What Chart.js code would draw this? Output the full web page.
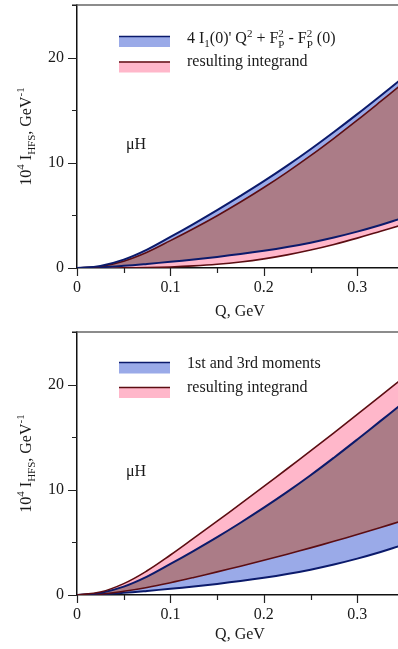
<!DOCTYPE html>
<html lang="en">
<head>
<meta charset="UTF-8">
<title>I_HFS integrand, muH</title>
<style>
    body { margin: 0; background: #fff; }
    .panel { position: relative; width: 398px; }
    #topPanel { height: 320px; }
    #bottomPanel { height: 329px; }
</style>
</head>
<body>
<div class="panel" id="topPanel"><canvas id="topChart"></canvas></div>
<div class="panel" id="bottomPanel"><canvas id="bottomChart"></canvas></div>
<script src="https://cdn.jsdelivr.net/npm/chart.js"></script>
<script>
// Q grid (GeV)
const qValues = [0, 0.025, 0.05, 0.075, 0.1, 0.125, 0.15, 0.175, 0.2, 0.225, 0.25, 0.275, 0.3, 0.325, 0.345];

// top panel: 4 I1(0)' Q^2 + F_P^2 - F_P^2(0) band and resulting integrand band
const topBlueUpper = [0, 0.2, 0.8, 1.75, 2.95, 4.2, 5.5, 6.85, 8.25, 9.73, 11.29, 12.93, 14.63, 16.38, 17.8];
const topBlueLower = [0, 0.07, 0.21, 0.39, 0.59, 0.81, 1.05, 1.32, 1.63, 1.99, 2.41, 2.9, 3.46, 4.09, 4.65];
const topPinkUpper = [0, 0.15, 0.65, 1.5, 2.6, 3.75, 4.97, 6.27, 7.65, 9.12, 10.68, 12.33, 14.05, 15.83, 17.28];
const topPinkLower = [0, 0, 0.01, 0.04, 0.1, 0.2, 0.35, 0.57, 0.87, 1.25, 1.71, 2.24, 2.84, 3.49, 4.02];

// bottom panel: 1st and 3rd moments band and resulting integrand band
const botBlueUpper = [0, 0.2, 0.8, 1.75, 2.95, 4.2, 5.5, 6.87, 8.3, 9.8, 11.38, 13.05, 14.78, 16.55, 17.97];
const botBlueLower = [0, 0.07, 0.21, 0.39, 0.59, 0.81, 1.05, 1.32, 1.63, 1.99, 2.41, 2.9, 3.46, 4.09, 4.65];
const botPinkUpper = [0, 0.28, 1.08, 2.3, 3.8, 5.4, 7.02, 8.66, 10.32, 12.0, 13.7, 15.42, 17.16, 18.92, 20.34];
const botPinkLower = [0, 0.08, 0.35, 0.72, 1.17, 1.67, 2.2, 2.74, 3.3, 3.88, 4.48, 5.1, 5.75, 6.42, 6.96];

const xTickStep = 0.05;
const yTickStep = 5;

const BLUE_FILL = '#9aaae8';
const PINK_FILL = '#ffb7ca';
const MIX_FILL = '#ab7c87';
const BLUE_LINE = '#0b1a6b';
const RED_LINE = '#5c0d12';
const FONT = '"Liberation Serif", "DejaVu Serif", serif';

Chart.defaults.font.family = FONT;
Chart.defaults.font.size = 16;
Chart.defaults.color = '#1a1a1a';

function pts(ys) {
    return qValues.map((q, i) => ({x: q, y: ys[i]}));
}

function isMajorX(v) { return Math.abs(v * 10 - Math.round(v * 10)) < 1e-6; }
function isMajorY(v) { return Math.abs(v / 10 - Math.round(v / 10)) < 1e-6; }

// draws text pieces: n = normal, sup, sub, ss = stacked sup/sub
function drawRich(ctx, parts, x, y, size) {
    const small = Math.round(size * 0.7);
    let cx = x;
    parts.forEach(p => {
        const [kind, a, b] = p;
        if (kind === 'n') {
            ctx.font = size + 'px ' + FONT;
            ctx.fillText(a, cx, y);
            cx += ctx.measureText(a).width;
        } else if (kind === 'sup') {
            ctx.font = small + 'px ' + FONT;
            ctx.fillText(a, cx, y - size * 0.38);
            cx += ctx.measureText(a).width;
        } else if (kind === 'sub') {
            ctx.font = small + 'px ' + FONT;
            ctx.fillText(a, cx, y + size * 0.25);
            cx += ctx.measureText(a).width;
        } else if (kind === 'ss') {
            ctx.font = small + 'px ' + FONT;
            ctx.fillText(a, cx, y - size * 0.38);
            ctx.fillText(b, cx, y + size * 0.3);
            cx += Math.max(ctx.measureText(a).width, ctx.measureText(b).width);
        }
    });
    return cx - x;
}

function measureRich(ctx, parts, size) {
    ctx.save();
    const w = drawRich({
        set font(f) { ctx.font = f; },
        fillText() {},
        measureText: t => ctx.measureText(t)
    }, parts, 0, 0, size);
    ctx.restore();
    return w;
}

const yTitleParts = [['n', '10'], ['sup', '4'], ['n', ' I'], ['sub', 'HFS'], ['n', ', GeV'], ['sup', '-1']];

function decorPlugin(d) {
    return {
        id: 'decor',
        afterDraw(chart) {
            const ctx = chart.ctx;
            const a = chart.chartArea;
            const xs = chart.scales.x, ys = chart.scales.y;
            ctx.save();

            // top frame line
            ctx.strokeStyle = '#666';
            ctx.lineWidth = 1.5;
            ctx.beginPath();
            ctx.moveTo(a.left - 5, a.top);
            ctx.lineTo(a.right, a.top);
            ctx.stroke();

            // tick marks
            ctx.strokeStyle = '#222';
            ctx.lineWidth = 1.2;
            ctx.beginPath();
            xs.ticks.forEach(t => {
                const px = Math.round(xs.getPixelForValue(t.value)) + 0.5;
                const len = isMajorX(t.value) ? 8 : 5;
                ctx.moveTo(px, a.bottom);
                ctx.lineTo(px, a.bottom + len);
            });
            ys.ticks.forEach(t => {
                const py = Math.round(ys.getPixelForValue(t.value)) + 0.5;
                const len = isMajorY(t.value) ? 9 : 5;
                ctx.moveTo(a.left, py);
                ctx.lineTo(a.left - len, py);
            });
            ctx.stroke();

            ctx.fillStyle = '#1a1a1a';
            ctx.textBaseline = 'alphabetic';
            ctx.textAlign = 'left';

            // x title
            ctx.font = '16px ' + FONT;
            const xt = 'Q, GeV';
            ctx.fillText(xt, 240 - ctx.measureText(xt).width / 2, d.xTitleY);

            // y title (rotated)
            const w = measureRich(ctx, yTitleParts, 16);
            ctx.save();
            ctx.translate(30.5, (a.top + a.bottom) / 2);
            ctx.rotate(-Math.PI / 2);
            drawRich(ctx, yTitleParts, -w / 2, 0, 16);
            ctx.restore();

            // muH label
            ctx.font = '16px ' + FONT;
            ctx.fillText('\u03BCH', 126, d.labelY);

            // legend
            d.legend.forEach(item => {
                ctx.fillStyle = item.fill;
                ctx.fillRect(119, item.y, 51, item.h);
                ctx.strokeStyle = item.line;
                ctx.lineWidth = 1.5;
                ctx.beginPath();
                ctx.moveTo(119, item.y + 0.5);
                ctx.lineTo(170, item.y + 0.5);
                ctx.stroke();
                ctx.fillStyle = '#1a1a1a';
                drawRich(ctx, item.text, 187, item.textY, 16);
            });

            ctx.restore();
        }
    };
}

function band(label, data, fillColor, lineColor, lineWidth) {
    return {
        label: label,
        data: pts(data),
        borderColor: lineColor,
        borderWidth: lineWidth,
        backgroundColor: fillColor || 'transparent',
        fill: fillColor ? '+1' : false,
        pointRadius: 0,
        tension: 0.4
    };
}

function makeChart(id, datasets, d) {
    return new Chart(document.getElementById(id), {
        type: 'line',
        data: {datasets: datasets},
        options: {
            responsive: true,
            maintainAspectRatio: false,
            animation: false,
            layout: {padding: {top: d.top, left: 0, right: 0, bottom: 0}},
            plugins: {
                legend: {display: false},
                tooltip: {enabled: false},
                filler: {drawTime: 'beforeDatasetsDraw'}
            },
            scales: {
                x: {
                    type: 'linear',
                    min: 0,
                    max: 0.3436,
                    grid: {display: false, drawTicks: false},
                    border: {display: true, color: '#111', width: 1.5},
                    afterFit: s => {
                        s.height = d.xHeight;
                        s.paddingLeft = 0;
                        s.paddingRight = 0;
                    },
                    ticks: {
                        stepSize: xTickStep,
                        includeBounds: false,
                        maxRotation: 0,
                        autoSkip: false,
                        padding: 10,
                        callback: v => isMajorX(v) ? (Math.round(v * 10) === 0 ? '0' : (Math.round(v * 10) / 10).toFixed(1)) : ''
                    }
                },
                y: {
                    min: 0,
                    max: 25,
                    grid: {display: false, drawTicks: false},
                    border: {display: true, color: '#111', width: 1.5},
                    afterFit: s => {
                        s.width = 77;
                        s.paddingTop = 0;
                        s.paddingBottom = 0;
                    },
                    ticks: {
                        stepSize: yTickStep,
                        padding: 13,
                        callback: v => isMajorY(v) && v < 25 ? String(v) : ''
                    }
                }
            }
        },
        plugins: [decorPlugin(d)]
    });
}

makeChart('topChart', [
    band('4 I1(0)\' Q^2 + F_P^2 - F_P^2(0) upper', topBlueUpper, BLUE_FILL, BLUE_LINE, 2),
    band('resulting integrand upper', topPinkUpper, MIX_FILL, RED_LINE, 1.6),
    band('4 I1(0)\' Q^2 + F_P^2 - F_P^2(0) lower', topBlueLower, PINK_FILL, BLUE_LINE, 2),
    band('resulting integrand lower', topPinkLower, null, RED_LINE, 1.6)
], {
    top: 5, xHeight: 52, xTitleY: 316, labelY: 149,
    legend: [
        {fill: BLUE_FILL, line: BLUE_LINE, y: 36, h: 11, textY: 43,
         text: [['n', '4 I'], ['sub', '1'], ['n', '(0)\' Q'], ['sup', '2'], ['n', ' + F'], ['ss', '2', 'P'], ['n', ' - F'], ['ss', '2', 'P'], ['n', ' (0)']]},
        {fill: PINK_FILL, line: RED_LINE, y: 61.5, h: 11, textY: 66,
         text: [['n', 'resulting integrand']]}
    ]
});

makeChart('bottomChart', [
    band('resulting integrand upper', botPinkUpper, PINK_FILL, RED_LINE, 1.6),
    band('1st and 3rd moments upper', botBlueUpper, MIX_FILL, BLUE_LINE, 2),
    band('resulting integrand lower', botPinkLower, BLUE_FILL, RED_LINE, 1.6),
    band('1st and 3rd moments lower', botBlueLower, null, BLUE_LINE, 2)
], {
    top: 12, xHeight: 54, xTitleY: 319, labelY: 156,
    legend: [
        {fill: BLUE_FILL, line: BLUE_LINE, y: 42, h: 11.5, textY: 48,
         text: [['n', '1st and 3rd moments']]},
        {fill: PINK_FILL, line: RED_LINE, y: 67, h: 11, textY: 71.5,
         text: [['n', 'resulting integrand']]}
    ]
});
</script>
</body>
</html>
